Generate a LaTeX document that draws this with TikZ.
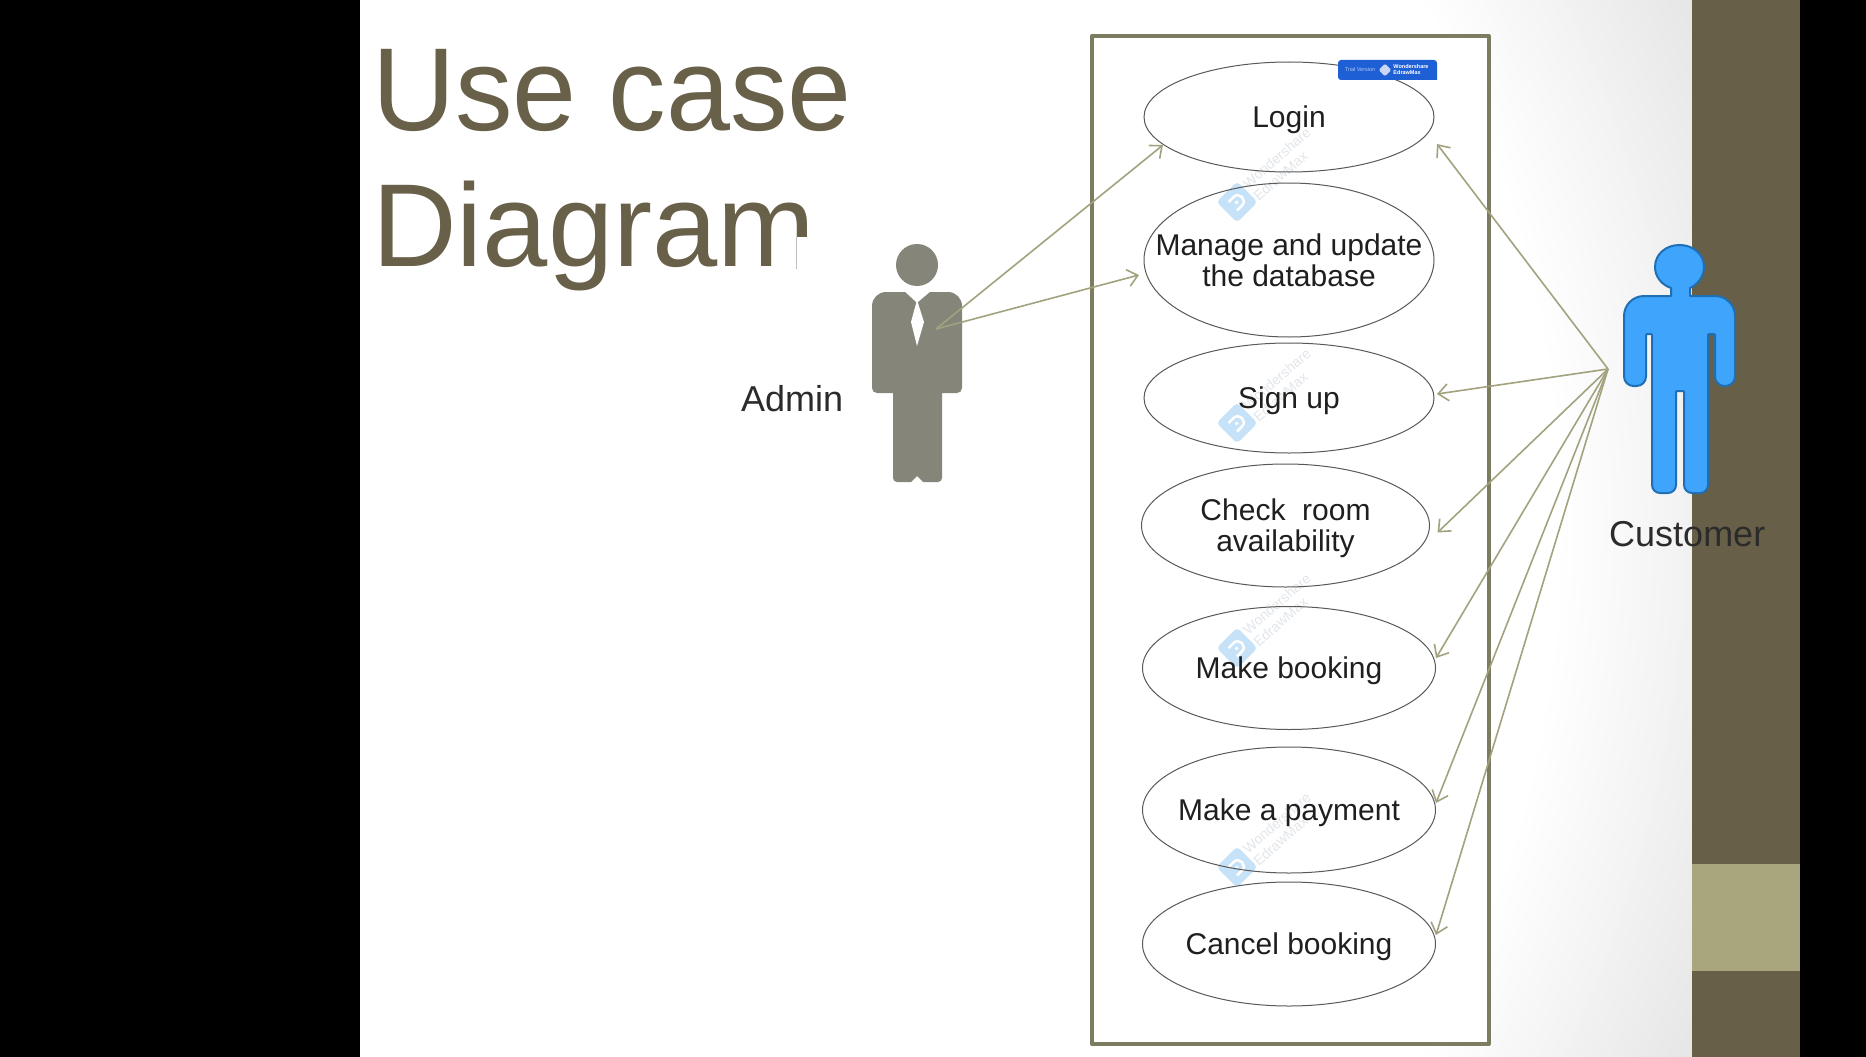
\documentclass[tikz,border=0pt]{standalone}
\usepackage{fontspec}
\setmainfont{Liberation Sans}
\newfontfamily\titlefont[FakeStretch=0.975]{Liberation Sans}
\newfontfamily\titlefontwide[FakeStretch=0.994]{Liberation Sans}
\usetikzlibrary{arrows.meta,shapes.geometric}
\definecolor{band}{HTML}{675F48}
\definecolor{bandlight}{HTML}{A9A67E}
\definecolor{titlecol}{HTML}{686048}
\definecolor{boxcol}{HTML}{7C7C60}
\definecolor{arrowcol}{HTML}{A3A27F}
\definecolor{admincol}{HTML}{85857A}
\definecolor{custfill}{HTML}{3FA4FC}
\definecolor{custline}{HTML}{1F6FB5}
\definecolor{wmblue}{HTML}{C6E2F8}
\definecolor{wmtext}{HTML}{E2E6EA}
\definecolor{badge}{HTML}{1F5FD6}
\definecolor{labelcol}{HTML}{2B2B2B}
\tikzset{
  usecase/.style={draw=black!65,line width=1pt,ellipse,inner ysep=0pt,inner xsep=-60pt,outer sep=0pt,align=center,
    font=\fontsize{30}{31}\selectfont,text=black!88},
  oneline/.style={text height=26pt,text depth=6pt},
  link/.style={draw=arrowcol,line width=1.6pt,-{Straight Barb[length=10pt,width=17pt,line width=1.6pt]}},
  actorlabel/.style={inner sep=0pt,anchor=base west,text=labelcol,font=\fontsize{36}{36}\selectfont},
  wmark/.pic={
    \node[rotate=45,fill=wmblue,rounded corners=4pt,minimum size=29pt,inner sep=0pt] (-d) at (0,0) {};
    \draw[white,line width=2.5pt,rotate=45] (-6,-6) -- (1,-6) .. controls (9,-6) and (9,6) .. (1,6) -- (-6,6) (-2,0) -- (1,0);
    \node[rotate=41,text=wmtext,align=left,inner sep=0pt,font=\fontsize{14}{16}\selectfont] (-t) at (45,-38) {Wondershare\\EdrawMax};
  }
}
\begin{document}
\begin{tikzpicture}[x=1pt,y=-1pt]
\useasboundingbox (0,0) rectangle (1866,1057);
\fill[black] (0,0) rectangle (1866,1057);
% slide background: soft grey falling off to the right-hand corners
\begin{scope}
  \clip (360,0) rectangle (1692,1057);
  \foreach \k in {0,...,64}{
    \pgfmathsetmacro{\rad}{1400-5*\k}
    \pgfmathsetmacro{\lev}{100-(\rad-1080)*0.0406}
    \fill[white!\lev!black] (483,528) circle[radius=\rad pt];
  }
\end{scope}
\fill[band] (1692,0) rectangle (1800,1057);
\fill[bandlight] (1692,864) rectangle (1800,971);
% title
\node[anchor=north west,inner sep=0pt,align=left,text=titlecol,font=\titlefont\fontsize{118}{136}\selectfont] (title) at (372,49.5) {Use case\\{\titlefontwide Diagram}};
\fill[white] (796,237) rectangle (830,272);
\draw[black!25,line width=0.6pt] (796,237) -- (796,269);
% system boundary
\draw[boxcol,line width=4pt,fill=white,line join=round] (1092,36) rectangle (1488.5,1044);
% watermarks
\pic (w1) at (1237,202) {wmark};
\pic (w2) at (1237,423) {wmark};
\pic (w3) at (1237,648) {wmark};
\pic (w4) at (1237,867) {wmark};
% use cases
\node[usecase,oneline,minimum width=290pt,minimum height=110pt] (login) at (1289,117) {Login};
\node[usecase,minimum width=290pt,minimum height=154pt] (manage) at (1289,260) {Manage and update\\the database};
\node[usecase,oneline,minimum width=290pt,minimum height=110pt] (signup) at (1289,398) {Sign up};
\node[usecase,minimum width=288pt,minimum height=123pt] (check) at (1285.5,525.5) {\rule{0pt}{28pt}Check\ \ room\\availability};
\node[usecase,oneline,minimum width=293pt,minimum height=123pt] (booking) at (1289,668) {Make booking};
\node[usecase,oneline,minimum width=293pt,minimum height=126pt] (payment) at (1289,810) {Make a payment};
\node[usecase,oneline,minimum width=293pt,minimum height=124pt] (cancel) at (1289,944) {Cancel booking};
% trial badge
\fill[badge,rounded corners=3pt] (1338,60) -- (1437,60) [sharp corners] -- (1437,80) [rounded corners=3pt] -- (1338,80) -- cycle;
\node[inner sep=0pt,text=white!65!badge,font=\fontsize{5.5}{6}\selectfont] (trial) at (1360,70) {Trial Version};
\node[rotate=45,fill=white!75!badge,rounded corners=1.5pt,minimum size=9pt,inner sep=0pt] (badgelogo) at (1385,70) {};
\node[inner sep=0pt,align=left,text=white,font=\bfseries\fontsize{5.5}{6}\selectfont] (badgetext) at (1411,70) {Wondershare\\EdrawMax};
% admin actor
\fill[admincol] (917,265) circle[radius=21pt];
\fill[admincol] (905,292) -- (917,303) -- (930,292) [rounded corners=14pt] -- (962,292) [rounded corners=5pt] -- (962,393) [sharp corners] -- (942,393) [rounded corners=4pt] -- (942,482) [sharp corners] -- (923,482) -- (917,476) -- (911,482) [rounded corners=4pt] -- (893,482) [sharp corners] -- (893,393) [rounded corners=5pt] -- (872,393) [rounded corners=14pt] -- (872,292) [sharp corners] -- cycle;
\fill[white] (917,300) -- (924,322) -- (917,346) -- (911,322) -- cycle;
\coordinate (adm) at (936,329);
\node[actorlabel] (adminlabel) at (741,411) {Admin};
% customer actor
\draw[fill=custfill,draw=custline,line width=2pt,line join=round]
  (1671,296) -- (1671,288) .. controls (1662,285) and (1655,277) .. (1655,267)
  .. controls (1655,254) and (1666,245) .. (1679.5,245)
  .. controls (1693,245) and (1704,254) .. (1704,267)
  .. controls (1704,277) and (1697,285) .. (1690,288) -- (1690,296)
  [rounded corners=20pt] -- (1735,296) [rounded corners=9.5pt] -- (1735,386) -- (1715,386)
  [rounded corners=1pt] -- (1715,334) -- (1708,334)
  [rounded corners=8pt] -- (1708,493) -- (1684,493)
  [rounded corners=1pt] -- (1684,391) -- (1676,391)
  [rounded corners=8pt] -- (1676,493) -- (1652,493)
  [rounded corners=1pt] -- (1652,334) -- (1646,334)
  [rounded corners=9.5pt] -- (1646,386) -- (1624,386)
  [rounded corners=20pt] -- (1624,296) [sharp corners] -- cycle;
\coordinate (cust) at (1608,369);
\node[actorlabel] (customerlabel) at (1609,546) {Customer};
% connector ends, placed just off the use cases
\coordinate (tLoginA) at ([shift={(-126,28)}]login.center);
\coordinate (tManage) at ([shift={(-150,15)}]manage.center);
\coordinate (tLoginC) at ([shift={(148,27)}]login.center);
\coordinate (tSignup) at ([shift={(148,-4)}]signup.center);
\coordinate (tCheck) at ([shift={(152,7)}]check.center);
\coordinate (tBooking) at ([shift={(147,-10)}]booking.center);
\coordinate (tPayment) at ([shift={(147,-7)}]payment.center);
\coordinate (tCancel) at ([shift={(147,-9)}]cancel.center);
% connectors
\draw[link] (adm) -- (tLoginA);
\draw[link] (adm) -- (tManage);
\draw[link] (cust) -- (tLoginC);
\draw[link] (cust) -- (tSignup);
\draw[link] (cust) -- (tCheck);
\draw[link] (cust) -- (tBooking);
\draw[link] (cust) -- (tPayment);
\draw[link] (cust) -- (tCancel);
\end{tikzpicture}
\end{document}
